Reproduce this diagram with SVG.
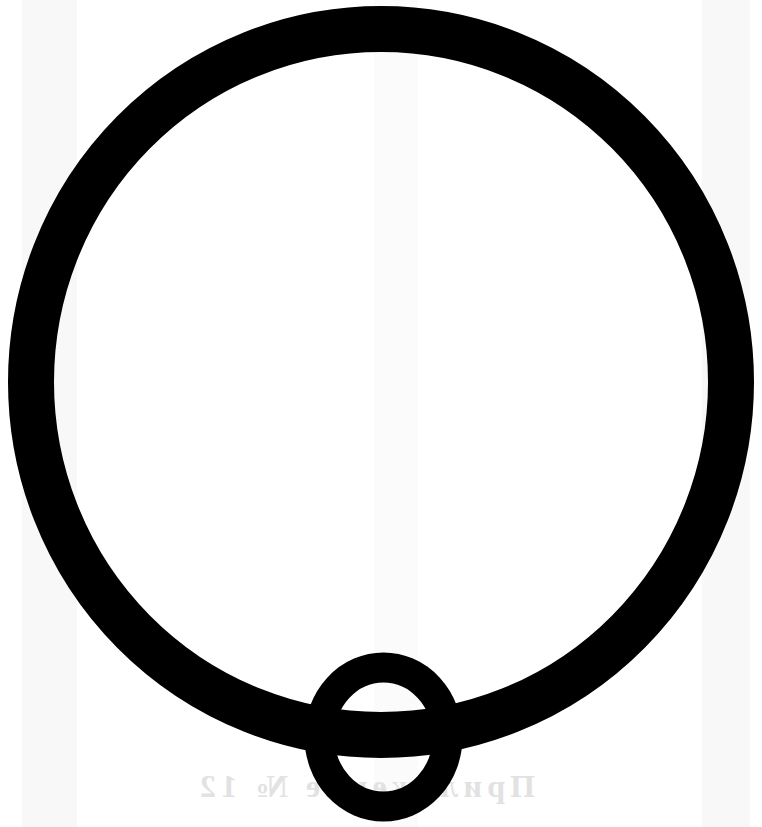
<svg xmlns="http://www.w3.org/2000/svg" width="762" height="827" viewBox="0 0 762 827">
  <style>
    .ring { fill: none; stroke: #000000; }
    .band { fill: #f4f4f4; }
    .ghost { font-family: "Liberation Serif", "DejaVu Serif", serif; font-weight: bold; font-size: 32px; fill: #e2e2e2; }
  </style>
  <rect x="0" y="0" width="762" height="827" fill="#ffffff"/>
  <g id="background">
    <rect class="band" x="22" y="0" width="55" height="827" opacity="0.6"/>
    <rect class="band" x="374" y="0" width="44" height="827" opacity="0.4"/>
    <rect class="band" x="702" y="0" width="48" height="827" opacity="0.6"/>
    <text class="ghost" transform="translate(535,0) scale(-1,1)" x="0" y="797" textLength="335" lengthAdjust="spacing">Приложение № 12</text>
  </g>
  <g id="big-ring">
    <ellipse class="ring" cx="381" cy="382" rx="350" ry="353" stroke-width="46"/>
  </g>
  <g id="small-ring">
    <ellipse class="ring" cx="383.5" cy="737" rx="64" ry="69.5" stroke-width="30"/>
  </g>
  <g id="connectors"></g>
</svg>
